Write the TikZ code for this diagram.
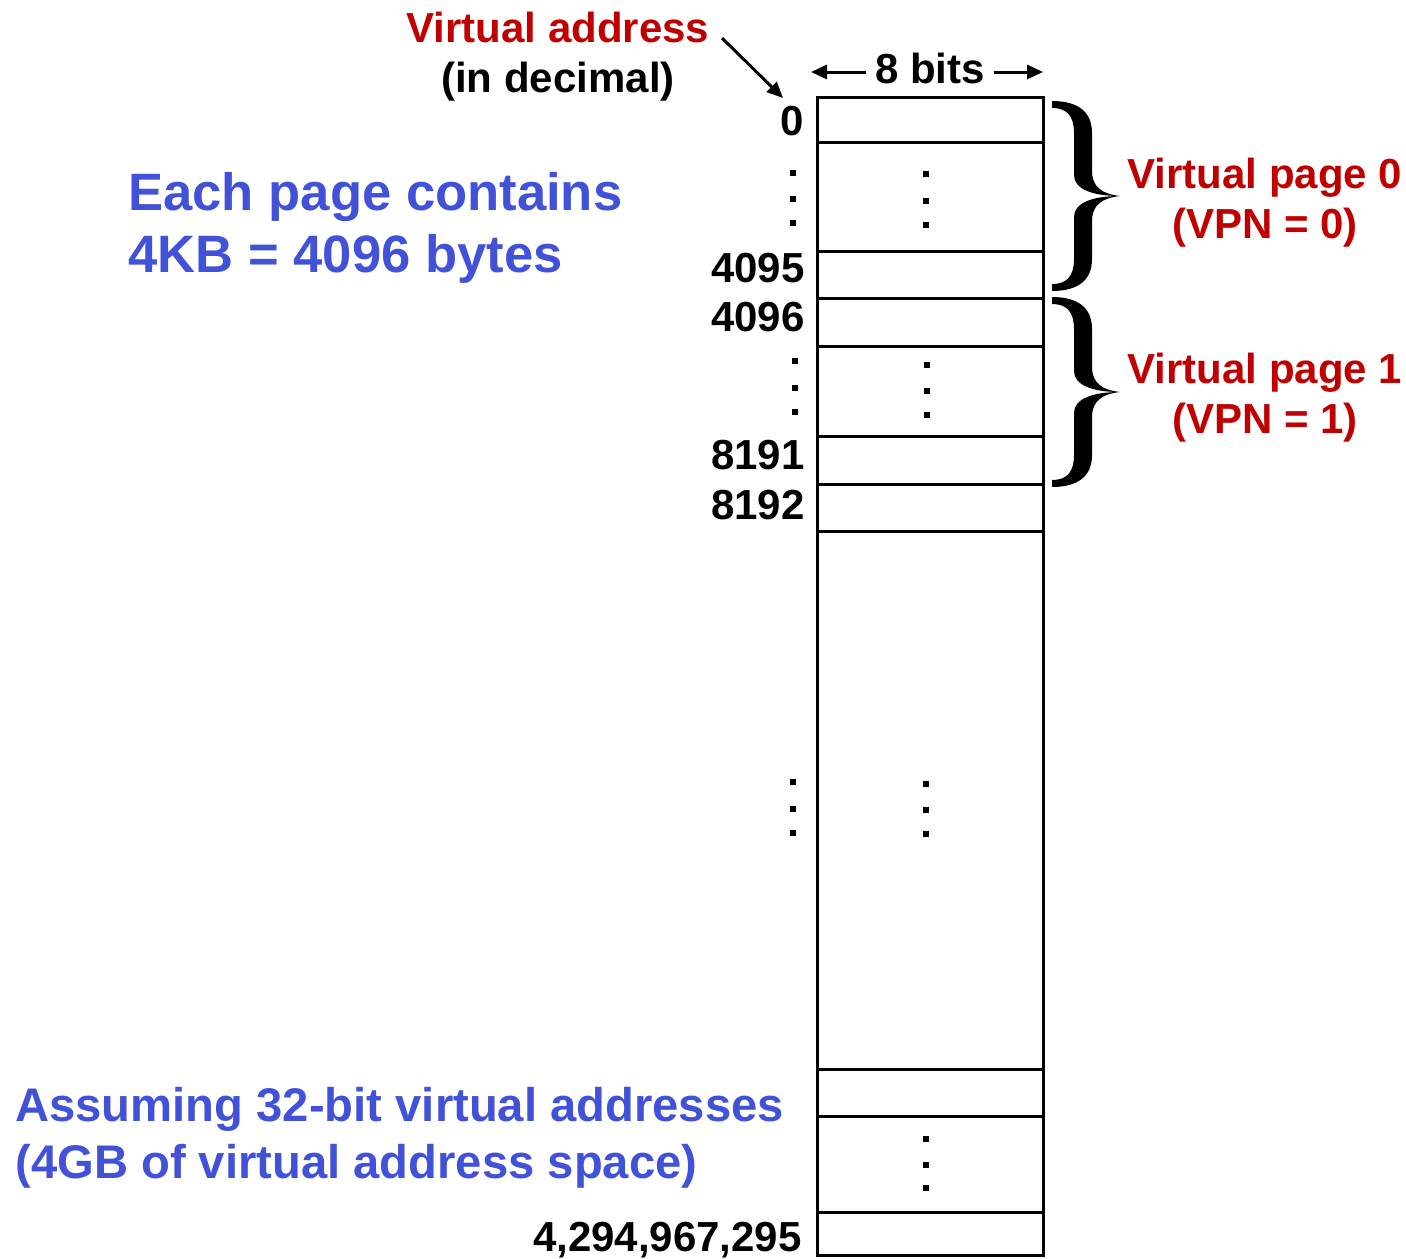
\documentclass[tikz,border=0pt]{standalone}
\usepackage{fontspec}
\setmainfont{Liberation Sans}
\usetikzlibrary{arrows.meta}
\definecolor{vred}{RGB}{192,0,0}
\definecolor{vblue}{RGB}{66,82,216}
\begin{document}
\begin{tikzpicture}[x=0.5pt,y=-0.5pt,
  lbl/.style={font=\fontsize{21}{25}\selectfont\bfseries, inner sep=0},
  redlbl/.style={lbl, text=vred, anchor=base},
  numlbl/.style={lbl, anchor=base east},
  bluetop/.style={font=\fontsize{26.3}{30}\selectfont\bfseries, text=vblue, inner sep=0, anchor=base west},
  bluebot/.style={font=\fontsize{23.6}{28}\selectfont\bfseries, text=vblue, inner sep=0, anchor=base west},
  cell/.style={draw=black, line width=1.5pt},
  dotsq/.style={rectangle, fill=black, inner sep=0, minimum size=3pt},
  arr/.style={line width=1.5pt, -{Triangle[length=8pt,width=7pt]}},
  bracefill/.style={fill=black}]
\useasboundingbox (0,0) rectangle (1406,1258);

% memory column
\draw[cell] (817,97) rectangle (1043,1255);
\foreach \yy in {142,251,298,346,436,484,531,1069,1116,1212}
  \draw[cell] (817,\yy) -- (1043,\yy);

% top labels
\node[redlbl] (va) at (558,42) {Virtual address};
\node[lbl, anchor=base] (vadec) at (558,92) {(in decimal)};
\coordinate (vaS) at (722,38);
\coordinate (vaE) at (783,98);
\draw[arr] (vaS) -- (vaE);

\node[lbl, anchor=base] (bits) at (930,83) {8 bits};
\coordinate (bitsL) at (811,72);
\coordinate (bitsR) at (1043,72);
\draw[arr] (bits.west |- bitsL) ++(-9,0) -- (bitsL);
\draw[arr] (bits.east |- bitsR) ++(9,0) -- (bitsR);

% address labels
\node[numlbl] (a0) at (804,135) {0};
\node[numlbl] (a4095) at (805,282) {4095};
\node[numlbl] (a4096) at (805,331) {4096};
\node[numlbl] (a8191) at (805,469) {8191};
\node[numlbl] (a8192) at (805,519) {8192};
\node[numlbl] (alast) at (802,1251) {4,294,967,295};

% dots
\foreach \n/\xx/\yy in {l1a/793/173,l1b/793/199,l1c/793/223,
                        r1a/926/174,r1b/926/201,r1c/926/225,
                        l2a/795/361,l2b/795/388,l2c/795/412,
                        r2a/927/365,r2b/927/391,r2c/927/415,
                        l3a/793/782,l3b/793/809,l3c/793/833,
                        r3a/926/784,r3b/926/810,r3c/926/834,
                        r4a/926/1139,r4b/926/1165,r4c/926/1188}
  \node[dotsq] (d\n) at (\xx,\yy) {};

% braces
\foreach \by in {101,297}{
\begin{scope}[shift={(1052,\by)}]
\fill[bracefill] (0,0) .. controls (25,0) and (40,10) .. (40,32)
  -- (40,70) .. controls (40,86) and (50,93) .. (68,95)
  .. controls (50,97) and (40,104) .. (40,120)
  -- (40,158) .. controls (40,180) and (25,190) .. (0,190)
  -- (0,183) .. controls (15,183) and (22,175) .. (22,158)
  -- (22,116) .. controls (22,102) and (40,95) .. (68,95)
  .. controls (40,95) and (22,88) .. (22,74)
  -- (22,32) .. controls (22,15) and (15,7) .. (0,7) -- cycle;
\end{scope}}

% page labels
\node[redlbl] (vp0) at (1265,188) {Virtual page 0};
\node[redlbl] (vpn0) at (1265,238) {(VPN = 0)};
\node[redlbl] (vp1) at (1265,383) {Virtual page 1};
\node[redlbl] (vpn1) at (1265,433) {(VPN = 1)};

% blue notes
\node[bluetop] (e1) at (128,210) {Each page contains};
\node[bluetop] (e2) at (128,272) {4KB = 4096 bytes};
\node[bluebot] (s1) at (15,1121) {Assuming 32-bit virtual addresses};
\node[bluebot] (s2) at (15,1178) {(4GB of virtual address space)};
\end{tikzpicture}
\end{document}
